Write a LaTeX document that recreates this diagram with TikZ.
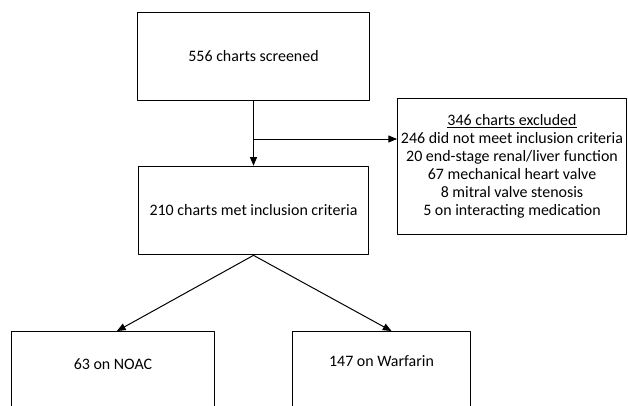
\documentclass[tikz,border=0pt]{standalone}
\usepackage{fontspec}
\setmainfont{Carlito}
\usetikzlibrary{arrows}

\begin{document}
\begin{tikzpicture}[line cap=round,line join=round,>=triangle 45,x=1bp,y=1bp]
	\tikzset{
		box/.style={draw=black,line width=1pt,inner sep=0pt},
		txt/.style={font=\fontsize{16}{18}\selectfont,align=center,inner sep=0pt},
		link/.style={line width=1pt,->}
	}
	\useasboundingbox (0,0) rectangle (628,405);
	\clip (0,0) rectangle (628,405);
	% boxes
	\node[box,txt,minimum width=233,minimum height=89] (screened) at (253.5,348.5) {556 charts screened};
	\node[box,txt,minimum width=231,minimum height=89] (included) at (253.5,194.5) {210 charts met inclusion criteria};
	\node[box,txt,minimum width=230,minimum height=137] (excluded) at (512,238.5) {\underline{346 charts excluded}\\246 did not meet inclusion criteria\\20 end-stage renal/liver function\\67 mechanical heart valve\\8 mitral valve stenosis\\5 on interacting medication};
	\node[box,anchor=north,minimum width=204,minimum height=100] (noac) at (113,74) {};
	\node[txt] (noactxt) at (113,41) {63 on NOAC};
	\node[box,anchor=north,minimum width=179,minimum height=100] (warfarin) at (381.5,74) {};
	\node[txt] (warfarintxt) at (381.5,44) {147 on Warfarin};
	% connectors
	\coordinate (tap) at (screened.south |- 0,266);
	\draw[link] (screened.south) -- (included.north);
	\draw[link] (tap) -- (tap -| excluded.west);
	\draw[link] (included.south) -- ([xshift=4]noac.north);
	\draw[link] (included.south) -- ([xshift=10]warfarin.north);
\end{tikzpicture}
\end{document}
